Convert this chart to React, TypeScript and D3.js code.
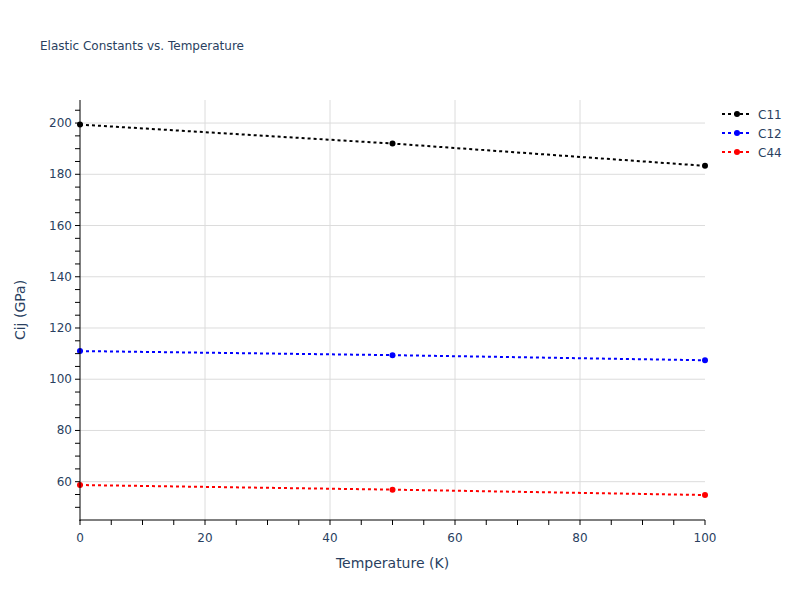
import React from 'react';
import * as d3 from 'd3';

const temperatures = [0, 50, 100];
const c11 = [199.4, 192.0, 183.3];
const c12 = [111.0, 109.4, 107.4];
const c44 = [58.7, 56.9, 54.8];

const seriesNames = ['C11', 'C12', 'C44'];
const seriesColors = ['black', 'blue', 'red'];
const seriesValues = [c11, c12, c44];

const xTicks = [0, 20, 40, 60, 80, 100];
const yTicks = [60, 80, 100, 120, 140, 160, 180, 200];

const W = 800;
const H = 600;
const margin = { left: 80, right: 95, top: 100, bottom: 80 };
const font = '"DejaVu Sans", verdana, arial, sans-serif';
const textColor = '#2a3f5f';

const App: React.FC = () => {
  const x = d3.scaleLinear().domain([0, 100]).range([margin.left, W - margin.right]);
  const y = d3.scaleLinear().domain([45.05, 209.0]).range([H - margin.bottom, margin.top]);

  const line = d3.line<number>()
    .x((_, i) => x(temperatures[i]))
    .y(d => y(d));

  const xMinor = d3.range(0, 101, 5);
  const yMinor = d3.range(50, 206, 5);
  const plotBottom = H - margin.bottom;
  const plotLeft = margin.left;

  return (
    <svg width={W} height={H} style={{ position: 'absolute', left: 0, top: 0, background: 'white' }}>
      <defs>
        <clipPath id="plotclip">
          <rect x={plotLeft - 5} y={margin.top - 5} width={W - margin.left - margin.right + 10} height={H - margin.top - margin.bottom + 10} />
        </clipPath>
      </defs>
      <text x={40} y={50} fontFamily={font} fontSize={12} fill={textColor}>Elastic Constants vs. Temperature</text>

      {/* grid */}
      {xTicks.filter(t => t !== 0 && t !== 100).map(t => (
        <line key={'gx' + t} x1={x(t)} x2={x(t)} y1={margin.top} y2={plotBottom} stroke="#dcdcdc" strokeWidth={1} />
      ))}
      {yTicks.map(t => (
        <line key={'gy' + t} x1={plotLeft} x2={W - margin.right} y1={y(t)} y2={y(t)} stroke="#dcdcdc" strokeWidth={1} />
      ))}

      {/* series */}
      <g clipPath="url(#plotclip)">
        {seriesValues.map((vals, s) => (
          <g key={seriesNames[s]}>
            <path d={line(vals) || ''} fill="none" stroke={seriesColors[s]} strokeWidth={2} strokeDasharray="3,3" />
            {vals.map((v, i) => (
              <circle key={i} cx={x(temperatures[i])} cy={y(v)} r={3} fill={seriesColors[s]} />
            ))}
          </g>
        ))}
      </g>

      {/* axes */}
      <line x1={plotLeft} x2={plotLeft} y1={margin.top} y2={plotBottom + 1} stroke="black" strokeWidth={1} />
      <line x1={plotLeft - 0.5} x2={W - margin.right} y1={plotBottom} y2={plotBottom} stroke="black" strokeWidth={1} />
      {xMinor.map(t => (
        <line key={'xt' + t} x1={x(t)} x2={x(t)} y1={plotBottom} y2={plotBottom + 5} stroke="black" strokeWidth={1} />
      ))}
      {yMinor.map(t => (
        <line key={'yt' + t} x1={plotLeft - 5} x2={plotLeft} y1={y(t)} y2={y(t)} stroke="black" strokeWidth={1} />
      ))}
      {xTicks.map(t => (
        <text key={'xl' + t} x={x(t)} y={plotBottom + 22} textAnchor="middle" fontFamily={font} fontSize={12} fill={textColor}>{t}</text>
      ))}
      {yTicks.map(t => (
        <text key={'yl' + t} x={plotLeft - 8} y={y(t) + 4} textAnchor="end" fontFamily={font} fontSize={12} fill={textColor}>{t}</text>
      ))}
      <text x={(margin.left + W - margin.right) / 2} y={568} textAnchor="middle" fontFamily={font} fontSize={14} fill={textColor}>Temperature (K)</text>
      <text transform={`translate(25,${(margin.top + plotBottom) / 2}) rotate(-90)`} textAnchor="middle" fontFamily={font} fontSize={14} fill={textColor}>Cij (GPa)</text>

      {/* legend */}
      {seriesNames.map((n, i) => (
        <g key={'lg' + n} transform={`translate(722,${114 + i * 19})`}>
          <line x1={0} x2={30} y1={0} y2={0} stroke={seriesColors[i]} strokeWidth={2} strokeDasharray="3,3" />
          <circle cx={15} cy={0} r={3} fill={seriesColors[i]} />
          <text x={36} y={4.5} fontFamily={font} fontSize={12} fill={textColor}>{n}</text>
        </g>
      ))}
    </svg>
  );
};

export default App;
